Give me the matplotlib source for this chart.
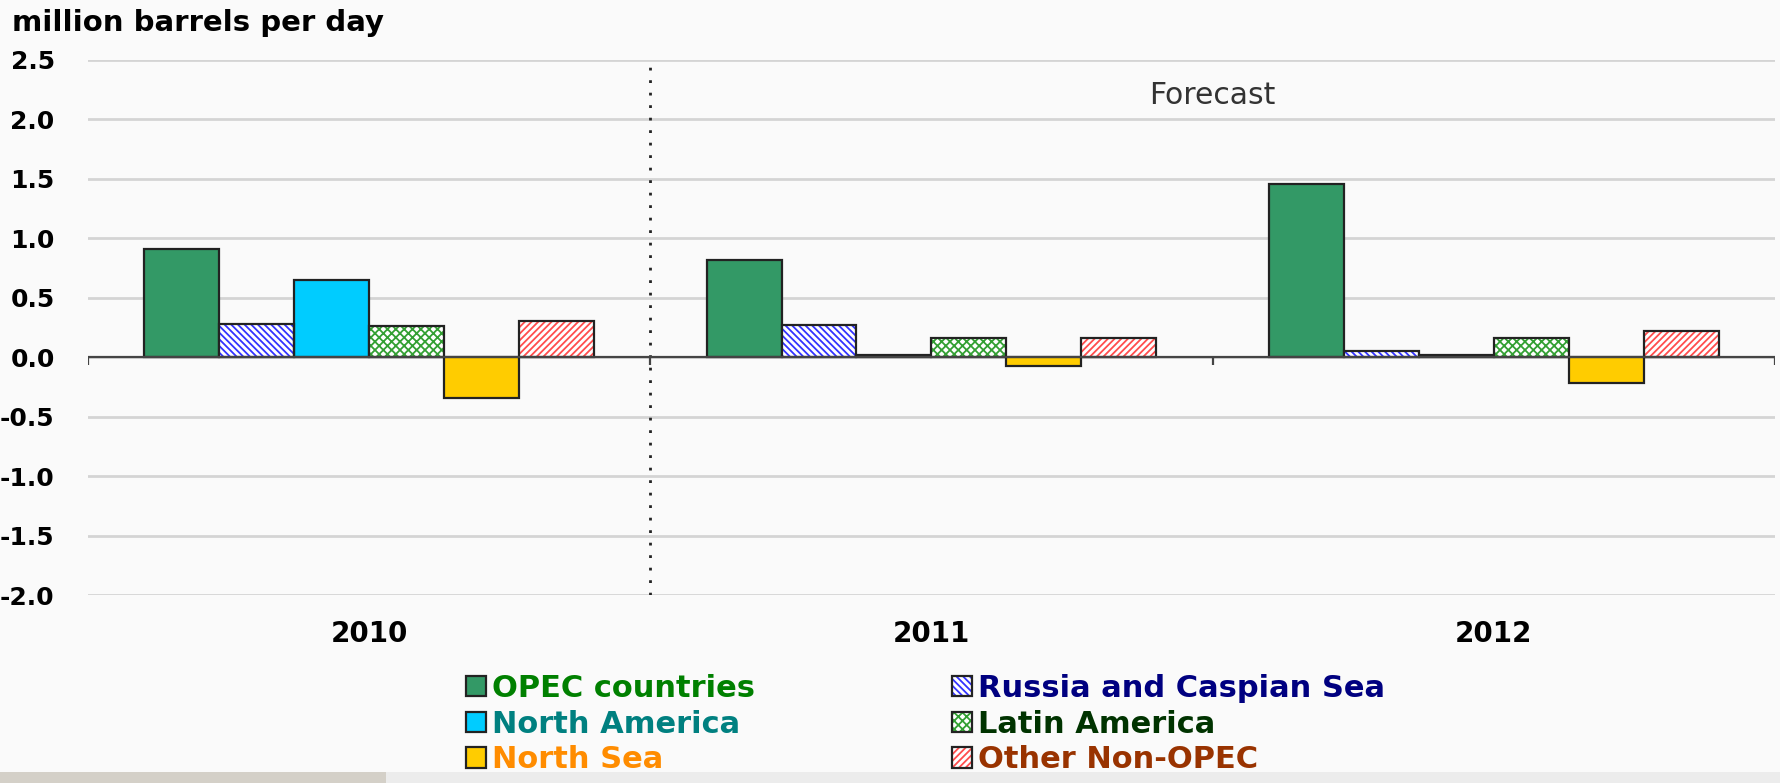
import numpy as np
import matplotlib.pyplot as plt
from matplotlib.patches import Patch, Rectangle

# --- data (million barrels per day) ---
years = ["2010", "2011", "2012"]
series_names = ["OPEC countries", "Russia and Caspian Sea", "North America",
                "Latin America", "North Sea", "Other Non-OPEC"]
opec = [0.905, 0.815, 1.45]
russia_caspian = [0.275, 0.27, 0.055]
north_america = [0.645, 0.015, 0.015]
latin_america = [0.263, 0.157, 0.16]
north_sea = [-0.34, -0.075, -0.22]
other_non_opec = [0.307, 0.157, 0.218]
y_ticks = [-2.0, -1.5, -1.0, -0.5, 0.0, 0.5, 1.0, 1.5, 2.0, 2.5]


def main():
    values = [opec, russia_caspian, north_america, latin_america, north_sea, other_non_opec]
    # (face colour, hatch, hatch colour, legend text colour)
    styles = [
        ("#339966", None, None, "#008000"),
        ("white", "\\\\\\\\\\", "#3333ff", "#000080"),
        ("#00ccff", None, None, "#008080"),
        ("white", "xxxx", "#33a033", "#003300"),
        ("#ffcc00", None, None, "#ff8c00"),
        ("white", "/////", "#ff4d4d", "#993300"),
    ]
    plt.rcParams["hatch.linewidth"] = 1.3

    fig = plt.figure(figsize=(17.81, 7.83), dpi=100, facecolor="#fafafa")
    ax = fig.add_axes([0.0494, 0.240, 0.9472, 0.684])
    ax.set_facecolor("#fafafa")

    x = np.arange(len(years))
    n = len(values)
    w = 0.8 / n
    handles = []
    for i, (vals, (fc, hatch, hcol, _)) in enumerate(zip(values, styles)):
        pos = x + (i - (n - 1) / 2) * w
        if hatch:
            ax.bar(pos, vals, w, color=fc, hatch=hatch, edgecolor=hcol, linewidth=0, zorder=3)
            ax.bar(pos, vals, w, color="none", edgecolor="#222222", linewidth=1.6, zorder=4)
            handles.append((Patch(facecolor=fc, hatch=hatch, edgecolor=hcol, linewidth=0),
                            Patch(facecolor="none", edgecolor="#222222", linewidth=1.6)))
        else:
            ax.bar(pos, vals, w, color=fc, edgecolor="#222222", linewidth=1.6, zorder=3)
            handles.append(Patch(facecolor=fc, edgecolor="#222222", linewidth=1.6))

    ax.set_xlim(-0.5, len(years) - 0.5)
    ax.set_ylim(-2.0, 2.5)
    ax.set_yticks(y_ticks)
    ax.set_yticklabels([f"{v:.1f}" for v in y_ticks], fontsize=18, fontweight="bold")
    ax.set_xticks(x)
    ax.set_xticklabels(years, fontsize=20, fontweight="bold")
    ax.tick_params(axis="y", length=0, pad=24)
    ax.tick_params(axis="x", length=0, pad=18)
    for s in ax.spines.values():
        s.set_visible(False)
    ax.grid(axis="y", color="#d4d4d4", linewidth=2, zorder=0)

    # zero line with small ticks at the year boundaries
    ax.axhline(0, color="#444444", linewidth=1.6, zorder=5)
    bounds = np.arange(len(years) + 1) - 0.5
    ax.vlines(bounds, -0.07, 0, color="#444444", linewidth=1.6, zorder=5)

    # history / forecast divider
    ax.axvline(0.5, color="#222222", linestyle=(0, (1, 3.5)), linewidth=2, zorder=2)
    ax.text(1.5, 2.2, "Forecast", fontsize=21.5, color="#333333", ha="center", va="center")

    fig.text(0.007, 0.970, "million barrels per day", fontsize=21, fontweight="bold",
             ha="left", va="center")

    # legend: column-first order
    order = [0, 2, 4, 1, 3, 5]
    leg = fig.legend([handles[k] for k in order], [series_names[k] for k in order],
                     ncol=2, loc="upper left", bbox_to_anchor=(0.2615, 0.1394),
                     frameon=False, prop={"weight": "bold", "size": 22},
                     handlelength=0.65, handleheight=0.65, handletextpad=0.2,
                     labelspacing=0.22, columnspacing=6.45, borderpad=0, borderaxespad=0)
    for t, k in zip(leg.get_texts(), order):
        t.set_color(styles[k][3])

    # grey strip at the bottom of the screenshot
    fig.patches.append(Rectangle((0, 0), 386 / 1781, 11 / 783, transform=fig.transFigure,
                                 facecolor="#d4d0c8", edgecolor="none", zorder=0))
    fig.patches.append(Rectangle((386 / 1781, 0), 1 - 386 / 1781, 11 / 783,
                                 transform=fig.transFigure, facecolor="#ececec",
                                 edgecolor="none", zorder=0))

    fig.savefig("out.png", dpi=100, facecolor=fig.get_facecolor())
    plt.close(fig)


if __name__ == "__main__":
    main()
